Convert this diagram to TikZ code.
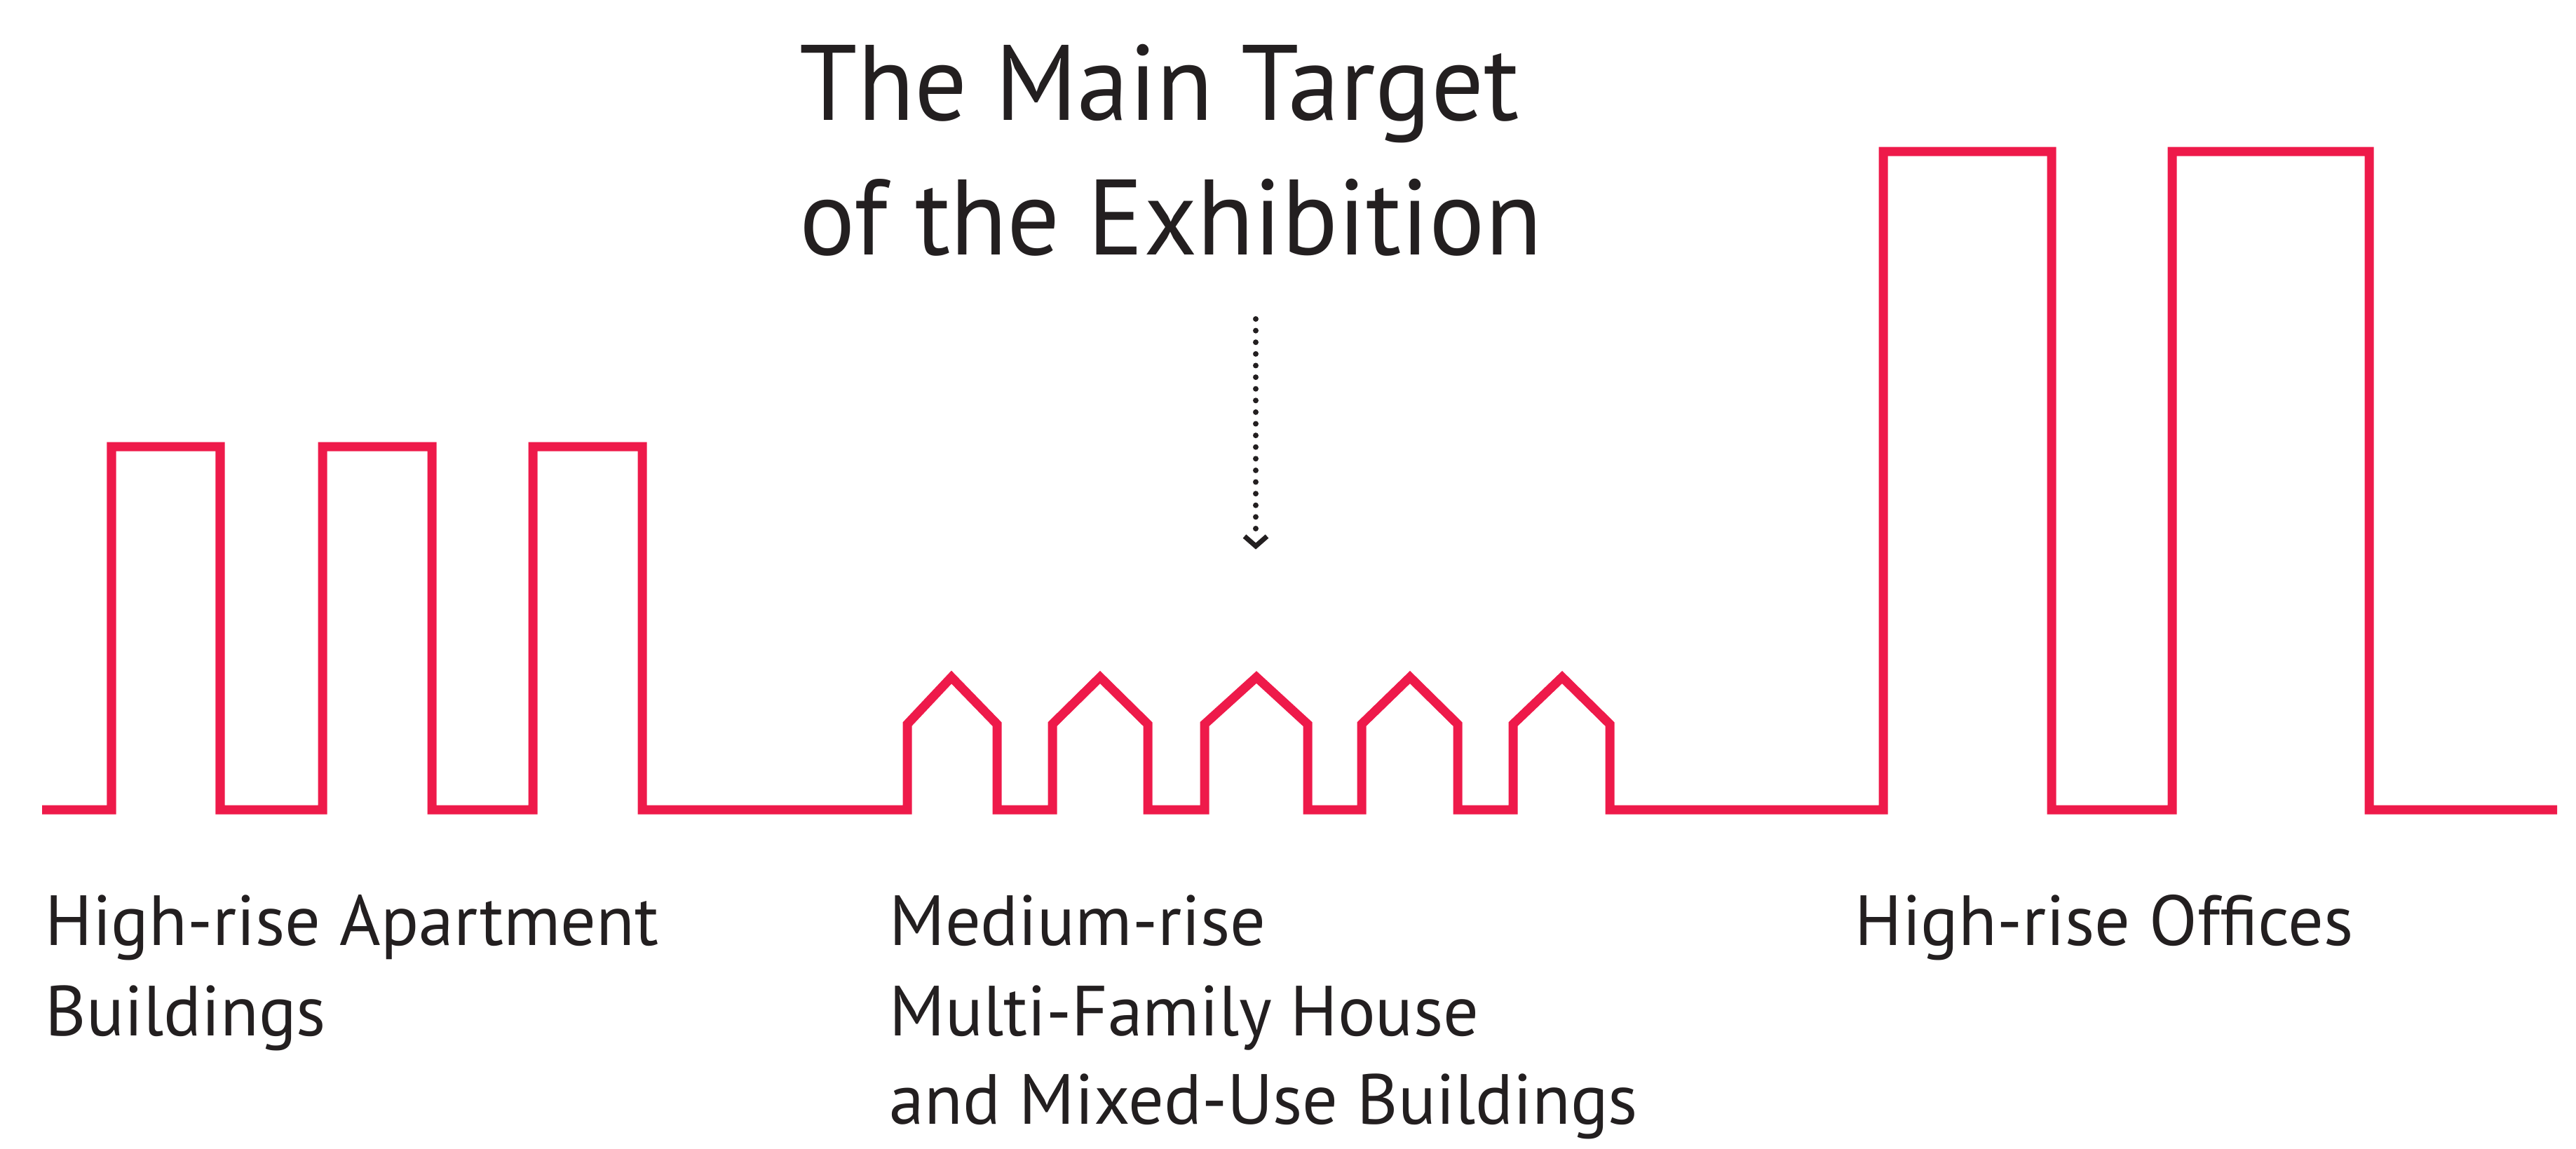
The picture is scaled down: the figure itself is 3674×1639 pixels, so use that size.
\documentclass[tikz,border=0pt]{standalone}
\usepackage{fontspec}
\setmainfont{PT Sans}
\newfontfamily\titlefamily[FakeStretch=0.97]{PT Sans}
\newfontfamily\labelfamily[FakeStretch=0.99]{PT Sans}
\definecolor{skyred}{HTML}{EE1A4A}
\definecolor{inkblack}{HTML}{231F20}
\def\pxu{0.284528pt}
\begin{document}
\begin{tikzpicture}[x=0.01cm,y=-0.01cm,
  skyline/.style={draw=skyred,line width=13*\pxu,line join=miter,line cap=butt},
  titletext/.style={inner sep=0pt,anchor=base west,text=inkblack,font=\titlefamily\fontsize{43.5}{54}\selectfont},
  labeltext/.style={inner sep=0pt,anchor=base west,text=inkblack,font=\labelfamily\fontsize{28.8}{36}\selectfont},
  dotline/.style={draw=inkblack,line width=8*\pxu,line cap=round,dash pattern=on 0pt off 16.6*\pxu},
  chevron/.style={draw=inkblack,line width=7*\pxu,line cap=butt,line join=miter}]
\useasboundingbox (0,0) rectangle (3674,1639);
% skyline
\draw[skyline] (60,1155)
  -- (159,1155) -- (159,637) -- (314,637) -- (314,1155)
  -- (460,1155) -- (460,637) -- (616,637) -- (616,1155)
  -- (760,1155) -- (760,637) -- (916,637) -- (916,1155)
  -- (1294,1155) -- (1294,1033) -- (1357,966) -- (1422,1033) -- (1422,1155)
  -- (1501,1155) -- (1501,1033) -- (1569,966) -- (1637,1033) -- (1637,1155)
  -- (1718,1155) -- (1718,1033) -- (1792,966) -- (1865,1033) -- (1865,1155)
  -- (1942,1155) -- (1942,1033) -- (2011,966) -- (2079,1033) -- (2079,1155)
  -- (2158,1155) -- (2158,1033) -- (2228,966) -- (2296,1033) -- (2296,1155)
  -- (2686,1155) -- (2686,216) -- (2926,216) -- (2926,1155)
  -- (3098,1155) -- (3098,216) -- (3379,216) -- (3379,1155)
  -- (3647,1155);
% title
\node[titletext] (title1) at (1140,171) {The Main Target};
\node[titletext] (title2) at (1140,363) {of the Exhibition};
% arrow
\coordinate (arrtop) at (1791,455);
\coordinate (arrend) at (1791,770);
\coordinate (arrtip) at (1791,779);
\draw[dotline] (arrtop) -- (arrend);
\draw[chevron] ([xshift=-16*0.01cm,yshift=14*0.01cm]arrtip) -- (arrtip) -- ([xshift=16*0.01cm,yshift=14*0.01cm]arrtip);
% labels
\node[labeltext] (lab1a) at (64,1348) {High-rise Apartment};
\node[labeltext] (lab1b) at (64,1477) {Buildings};
\node[labeltext] (lab2a) at (1268,1348) {Medium-rise};
\node[labeltext] (lab2b) at (1268,1477) {Multi-Family House};
\node[labeltext] (lab2c) at (1268,1603) {and Mixed-Use Buildings};
\node[labeltext] (lab3) at (2645,1348) {High-rise Offices};
\end{tikzpicture}
\end{document}
